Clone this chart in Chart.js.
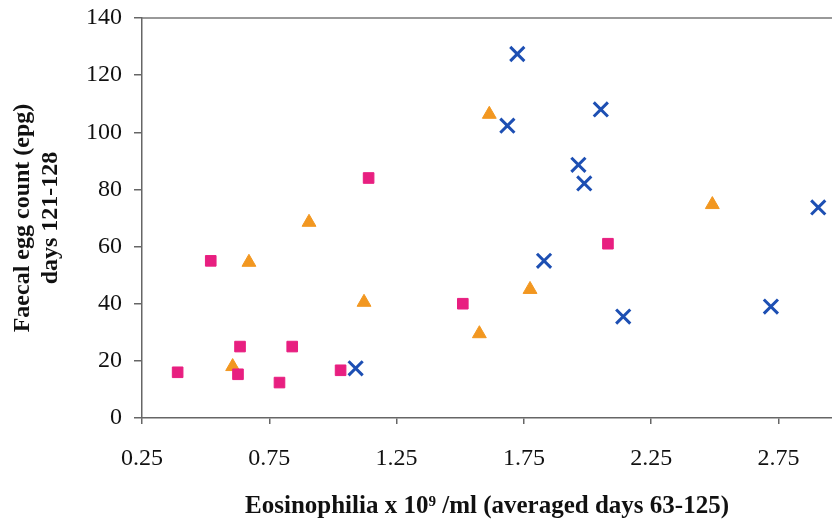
<!DOCTYPE html>
<html>
<head>
<meta charset="utf-8">
<script src="https://cdn.jsdelivr.net/npm/chart.js@4.4.1/dist/chart.umd.min.js"></script>
<style>
  html, body { margin: 0; padding: 0; background: #fff; }
  #wrap { width: 832px; height: 522px; }
</style>
</head>
<body>
<div id="wrap"><canvas id="eosChart" width="832" height="522"></canvas></div>
<script>
// series (x = eosinophilia, y = epg)
const squaresX = [0.39, 0.52, 0.635, 0.627, 0.79, 0.84, 1.03, 1.51, 1.14, 2.08];
const squaresY = [16, 55, 25, 15.3, 12.4, 25, 16.7, 40, 84, 61];

const trianglesX = [0.606, 0.67, 0.906, 1.122, 1.575, 1.774, 2.49, 1.614];
const trianglesY = [18, 54.5, 68.5, 40.5, 29.5, 45, 74.7, 106.3];

const crossesX = [1.089, 1.724, 1.685, 2.052, 1.964, 1.987, 1.829, 2.14, 2.72, 2.906];
const crossesY = [17.4, 127.4, 102.3, 108, 88.6, 82.1, 55, 35.5, 39, 73.7];

const xTicks = [0.25, 0.75, 1.25, 1.75, 2.25, 2.75];
const yTicks = [0, 20, 40, 60, 80, 100, 120, 140];

function toPoints(xs, ys) {
  return xs.map((x, i) => ({ x: x, y: ys[i] }));
}

// top border line of the plot
const topLine = {
  id: 'topLine',
  afterDraw(chart) {
    const a = chart.chartArea;
    const ctx = chart.ctx;
    ctx.save();
    ctx.strokeStyle = '#777';
    ctx.lineWidth = 1.5;
    ctx.beginPath();
    ctx.moveTo(a.left, a.top);
    ctx.lineTo(a.right, a.top);
    ctx.stroke();
    ctx.restore();
  }
};

const serif = "'Liberation Serif', 'Times New Roman', serif";

const ctx = document.getElementById('eosChart').getContext('2d');
new Chart(ctx, {
  type: 'scatter',
  data: {
    datasets: [
      {
        label: 'squares',
        data: toPoints(squaresX, squaresY),
        pointStyle: 'rect',
        pointRadius: 7.5,
        backgroundColor: '#e81f80',
        borderColor: '#e81f80',
        borderWidth: 1
      },
      {
        label: 'triangles',
        data: toPoints(trianglesX, trianglesY),
        pointStyle: 'triangle',
        pointRadius: 8,
        backgroundColor: '#f29720',
        borderColor: '#f29720',
        borderWidth: 1
      },
      {
        label: 'crosses',
        data: toPoints(crossesX, crossesY),
        pointStyle: 'crossRot',
        pointRadius: 10,
        backgroundColor: '#1d4fb3',
        borderColor: '#1d4fb3',
        borderWidth: 3
      }
    ]
  },
  options: {
    responsive: false,
    animation: false,
    layout: { autoPadding: false, padding: { top: 18, right: 0, left: 0, bottom: 0 } },
    plugins: {
      legend: { display: false },
      tooltip: { enabled: false }
    },
    scales: {
      x: {
        type: 'linear',
        min: 0.25,
        max: 2.96,
        afterBuildTicks: scale => { scale.ticks = xTicks.map(v => ({ value: v })); },
        afterFit: scale => { scale.height = 104; },
        grid: { drawOnChartArea: false, drawTicks: true, tickLength: 6, color: '#666', lineWidth: 1.5 },
        border: { display: true, color: '#666', width: 1.5 },
        ticks: {
          color: '#111',
          padding: 20,
          maxRotation: 0,
          font: { family: serif, size: 24 },
          callback: v => v.toFixed(2)
        },
        title: {
          display: true,
          text: 'Eosinophilia x 10\u2079 /ml (averaged days 63-125)',
          color: '#111',
          font: { family: serif, size: 25, weight: 'bold' },
          padding: { top: 4, bottom: 0 }
        }
      },
      y: {
        type: 'linear',
        min: 0,
        max: 140,
        afterBuildTicks: scale => { scale.ticks = yTicks.map(v => ({ value: v })); },
        afterFit: scale => {
          scale.width = 142;
          scale.paddingTop = 0;
        },
        grid: { drawOnChartArea: false, drawTicks: true, tickLength: 8, color: '#666', lineWidth: 1.5 },
        border: { display: true, color: '#666', width: 1.5 },
        ticks: {
          color: '#111',
          padding: 12,
          font: { family: serif, size: 24 }
        },
        title: {
          display: true,
          text: ['Faecal egg count (epg)', 'days 121-128'],
          color: '#111',
          font: { family: serif, size: 24, weight: 'bold', lineHeight: 1.2 },
          padding: { top: 8, bottom: 0 }
        }
      }
    }
  },
  plugins: [topLine]
});
</script>
</body>
</html>
